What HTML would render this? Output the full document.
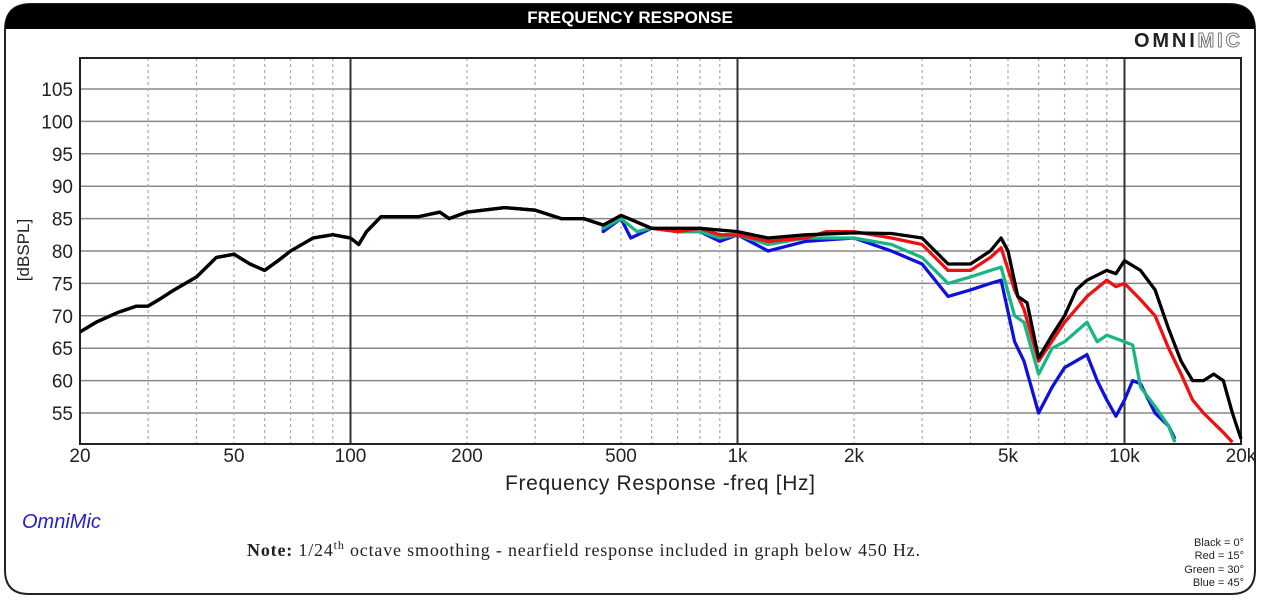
<!DOCTYPE html>
<html><head><meta charset="utf-8"><style>
html,body{margin:0;padding:0;background:#fff;}
svg{display:block;}
text{font-family:"Liberation Sans",sans-serif;}
</style></head><body>
<svg id="s" width="1261" height="600" viewBox="0 0 1261 600" xmlns="http://www.w3.org/2000/svg">
<path d="M5,30 Q5,4 31,4 L1229,4 Q1255,4 1255,30 L1255,570 Q1255,594 1231,594 L29,594 Q5,594 5,570 Z" fill="#fff" stroke="#222" stroke-width="2"/>
<path d="M5,29 Q5,4 31,4 L1229,4 Q1255,4 1255,29 Z" fill="#000"/>
<text x="630" y="23" font-size="17" font-weight="bold" fill="#fff" text-anchor="middle">FREQUENCY RESPONSE</text>
<text x="1240" y="47" font-size="20" font-weight="bold" fill="#222" text-anchor="end" textLength="106">OMNI<tspan fill="#fff" stroke="#777" stroke-width="1">MIC</tspan></text>
<g id="grid"></g>
<rect x="80" y="58" width="1161" height="386" fill="none" stroke="#222" stroke-width="2"/>
<g id="curves" fill="none" stroke-width="3.3" stroke-linejoin="round"></g>
<g font-size="19" fill="#222" text-anchor="end" id="ylab"></g>
<g font-size="19" fill="#222" text-anchor="middle" id="xlab"></g>
<text transform="translate(29,250) rotate(-90)" font-size="17" fill="#222" text-anchor="middle">[dBSPL]</text>
<text x="660" y="490" font-size="21" fill="#222" text-anchor="middle" textLength="310">Frequency Response -freq [Hz]</text>
<text x="22" y="528" font-size="20" font-style="italic" fill="#2222cc">OmniMic</text>
<text x="247" y="556" font-size="18" fill="#222" textLength="673" style="font-family:'Liberation Serif',serif"><tspan font-weight="bold">Note:</tspan> 1/24<tspan font-size="12" dy="-7">th</tspan><tspan dy="7"> octave smoothing - nearfield response included in graph below 450 Hz.</tspan></text>
<g font-size="11" fill="#222" text-anchor="end">
<text x="1244" y="546">Black = 0°</text>
<text x="1244" y="559">Red = 15°</text>
<text x="1244" y="573">Green = 30°</text>
<text x="1244" y="586">Blue = 45°</text>
</g>
</svg>
<script>
var NS="http://www.w3.org/2000/svg";
function X(f){return 80+387*Math.log10(f/20);}
function Y(d){return 89+(105-d)*6.48;}
function el(p,t,a,txt){var e=document.createElementNS(NS,t);for(var k in a)e.setAttribute(k,a[k]);if(txt!=null)e.textContent=txt;document.getElementById(p).appendChild(e);return e;}
for(var d=55;d<=105;d+=5){el("grid","line",{x1:80,x2:1241,y1:Y(d),y2:Y(d),stroke:"#888","stroke-width":1.5});el("ylab","text",{x:73,y:Y(d)+7},d);}
[20,100,1000,10000].forEach(function(b){for(var m=1;m<10;m++){var f=b*m; if(b==20){if(m<2)continue; f=10*m;} if(f<=20||f>=20000)continue;
 var major=(f==100||f==1000||f==10000);
 el("grid","line",{x1:X(f),x2:X(f),y1:58,y2:444,stroke:major?"#333":"#aaa","stroke-width":major?2:1.2,"stroke-dasharray":major?"":"3,3"});}});
[[20,"20"],[50,"50"],[100,"100"],[200,"200"],[500,"500"],[1000,"1k"],[2000,"2k"],[5000,"5k"],[10000,"10k"],[20000,"20k"]].forEach(function(p){el("xlab","text",{x:X(p[0]),y:462},p[1]);});
var base=[[20,67.5],[22,69],[25,70.5],[28,71.5],[30,71.5],[32,72.5],[35,74],[40,76],[45,79],[50,79.5],[55,78],[60,77],[65,78.5],[70,80],[80,82],[90,82.5],[100,82],[105,81],[110,83],[120,85.3],[150,85.3],[170,86],[180,85],[200,86],[250,86.7],[300,86.3],[350,85],[400,85],[450,84],[500,85.5],[600,83.5],[800,83.5],[1000,83]];
var black=base.concat([[1200,82],[1500,82.5],[2000,82.8],[2500,82.7],[3000,82],[3500,78],[4000,78],[4500,80],[4800,82],[5000,80],[5300,73],[5600,72],[6000,63.5],[6500,67],[7000,70],[7500,74],[8000,75.5],[9000,77],[9500,76.5],[10000,78.5],[11000,77],[12000,74],[13000,68],[14000,63],[15000,60],[16000,60],[17000,61],[18000,60],[19000,55],[20000,51]]);
var red=base.slice(0,30).concat([[600,83.5],[700,83],[800,83.5],[900,82.5],[1000,82.5],[1200,81.5],[1500,82],[1700,83],[2000,83],[2500,82],[3000,81],[3500,77],[4000,77],[4500,79],[4800,80.5],[5200,74],[5500,71],[6000,63],[7000,69],[8000,73],[9000,75.5],[9500,74.5],[10000,75],[11000,72.5],[12000,70],[13000,65],[14000,61],[15000,57],[16000,55],[18000,52],[19000,50.5]]);
var green=base.slice(0,29).concat([[450,83.5],[500,85],[550,83],[600,83.5],[700,83],[800,83],[900,82],[1000,82.5],[1200,81],[1500,82],[2000,82],[2500,81],[3000,79],[3500,75],[4000,76],[4500,77],[4800,77.5],[5200,70],[5500,69],[6000,61],[6500,65],[7000,66],[8000,69],[8500,66],[9000,67],[10000,66],[10500,65.5],[11000,59],[12000,56],[13000,53],[13500,50.5]]);
var blue=base.slice(0,29).concat([[450,83],[500,85],[530,82],[600,83.5],[700,83],[800,83],[900,81.5],[1000,82.5],[1200,80],[1500,81.5],[2000,82],[2500,80],[3000,78],[3500,73],[4000,74],[4500,75],[4800,75.5],[5200,66],[5500,63],[6000,55],[6500,59],[7000,62],[8000,64],[8500,60],[9000,57],[9500,54.5],[10000,57],[10500,60],[11000,59.5],[12000,55],[13000,53],[13500,51]]);
function path(pts){return pts.map(function(p,i){return (i?"L":"M")+X(p[0]).toFixed(1)+","+Y(p[1]).toFixed(1);}).join(" ");}
[[blue,"#1010dd"],[green,"#19b585"],[red,"#ee1111"],[black,"#000"]].forEach(function(c){el("curves","path",{d:path(c[0]),stroke:c[1]});});
</script>
</body></html>
